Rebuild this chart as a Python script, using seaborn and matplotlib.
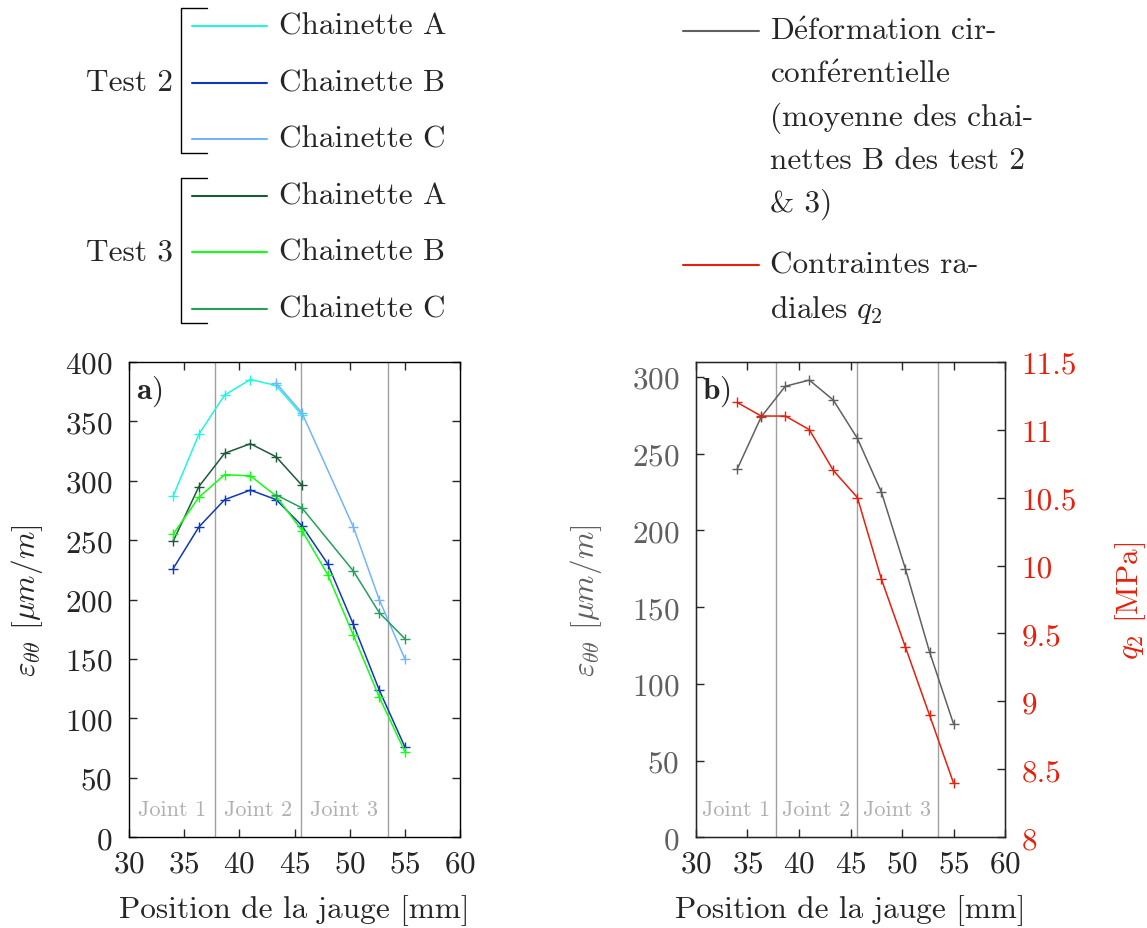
import numpy as np
import pandas as pd
import matplotlib.pyplot as plt
import seaborn as sns
from matplotlib.lines import Line2D

# positions des jauges [mm]
pos = [34.0, 36.33, 38.67, 41.0, 43.33, 45.67, 48.0, 50.33, 52.67, 55.0]
pos_c = [43.33, 45.67, 50.33, 52.67, 55.0]

# test 2
t2_A = [287, 339, 372, 385, 380, 355]
t2_B = [226, 261, 284, 292, 284, 262, 230, 179, 124, 76]
t2_C = [382, 357, 261, 200, 150]
# test 3
t3_A = [249, 295, 323, 331, 320, 296]
t3_B = [255, 286, 305, 304, 287, 258, 221, 170, 118, 72]
t3_C = [288, 277, 224, 189, 167]

# moyenne chainettes B et contraintes radiales
moy_B = [240, 274, 294, 298, 285, 260, 225, 175, 121, 74]
q2 = [11.2, 11.1, 11.1, 11.0, 10.7, 10.5, 9.9, 9.4, 8.9, 8.4]

joints = [37.8, 45.6, 53.45]
joint_lbl = ['Joint 1', 'Joint 2', 'Joint 3']
joint_x = [33.9, 41.7, 49.5]

c2 = ['#22F5E2', '#1038B8', '#74B4FF']
c3 = ['#1D5A3A', '#12FF12', '#24A05C']
gris = '#606060'
rouge = '#E5200C'

sns.set_style('ticks')
plt.rcParams['font.family'] = ['cmr10', 'DejaVu Serif']
plt.rcParams['mathtext.fontset'] = 'cm'
plt.rcParams['axes.formatter.use_mathtext'] = True
plt.rcParams['axes.unicode_minus'] = False
fs = 22.5

fig = plt.figure(figsize=(11.47, 9.29), dpi=100)
ax1 = fig.add_axes([0.1125, 0.0976, 0.2886, 0.512])
ax2 = fig.add_axes([0.6068, 0.0976, 0.2694, 0.512])
ax3 = ax2.twinx()

kw = dict(marker='+', markersize=7.5, mew=1.0, lw=1.1, legend=False)

series = [(pos[:6], t2_A, c2[0]), (pos, t2_B, c2[1]), (pos_c, t2_C, c2[2]),
          (pos[:6], t3_A, c3[0]), (pos, t3_B, c3[1]), (pos_c, t3_C, c3[2])]
for x, y, c in series:
    sns.lineplot(x=x, y=y, color=c, mec=c, ax=ax1, **kw)

sns.lineplot(x=pos, y=moy_B, color=gris, mec=gris, ax=ax2, **kw)
sns.lineplot(x=pos, y=q2, color=rouge, mec=rouge, ax=ax3, **kw)

for ax, ymax in [(ax1, 400), (ax2, 310)]:
    ax.set_xlim(30, 60)
    ax.set_ylim(0, ymax)
    ax.set_xticks(np.arange(30, 61, 5))
    for j in joints:
        ax.axvline(j, color='#a0a0a0', lw=1.0, zorder=0)
    for t, xx in zip(joint_lbl, joint_x):
        ax.text(xx, 0.058 * ymax, t, color='#b0b0b0', fontsize=16, ha='center', va='center')
    ax.set_xlabel('Position de la jauge [mm]', fontsize=fs, labelpad=12)
    ax.tick_params(direction='in', length=6, width=1, labelsize=fs, top=True)
    ax.tick_params(axis='x', pad=9)
    ax.tick_params(axis='y', pad=12)
    for s in ax.spines.values():
        s.set_linewidth(1.0)
        s.set_color('black')

ax1.set_yticks(np.arange(0, 401, 50))
ax1.tick_params(right=True)
ax1.set_ylabel(r'$\varepsilon_{\theta\theta}$ [$\mu m/m$]', fontsize=fs, labelpad=14)
ax1.text(0.02, 0.975, r'$\mathbf{a)}$', transform=ax1.transAxes, fontsize=fs,
         va='top', ha='left')

ax2.set_yticks(np.arange(0, 301, 50))
ax2.tick_params(axis='y', labelcolor=gris)
ax2.set_ylabel(r'$\varepsilon_{\theta\theta}$ [$\mu m/m$]', fontsize=fs, color=gris, labelpad=20)
ax2.text(0.02, 0.975, r'$\mathbf{b)}$', transform=ax2.transAxes, fontsize=fs,
         va='top', ha='left')

ax3.set_ylim(8, 11.5)
ax3.set_yticks(np.arange(8, 11.51, 0.5))
ax3.set_yticklabels(['8', '8.5', '9', '9.5', '10', '10.5', '11', '11.5'])
ax3.tick_params(direction='in', length=6, width=1, labelsize=fs, labelcolor=rouge, pad=12)
ax3.set_ylabel(r'$q_2$ [MPa]', fontsize=fs, color=rouge, labelpad=26)

# legende gauche (accolades test 2 / test 3)
W, H = 1147, 929
def fx(px): return px / W
def fy(py): return 1 - py / H

noms = ['Chainette A', 'Chainette B', 'Chainette C']
for g, (tst, cols) in enumerate([('Test 2', c2), ('Test 3', c3)]):
    y0 = 27 + g * 169.5
    for i, (n, c) in enumerate(zip(noms, cols)):
        yy = y0 + i * 56.5
        fig.add_artist(Line2D([fx(192), fx(267)], [fy(yy), fy(yy)], color=c, lw=1.5))
        fig.text(fx(279), fy(yy), n, fontsize=fs, va='center', ha='left')
    top, bot = y0 - 18, y0 + 2 * 56.5 + 14
    fig.add_artist(Line2D([fx(207), fx(181), fx(181), fx(207)],
                          [fy(top), fy(top), fy(bot), fy(bot)], color='black', lw=1.0))
    fig.text(fx(173), fy(y0 + 56.5), tst, fontsize=fs, va='center', ha='right')

# legende droite
fig.add_artist(Line2D([fx(683), fx(759)], [fy(32), fy(32)], color=gris, lw=1.5))
lignes = [r'D$\acute{\mathrm{e}}$formation cir-', r'conf$\acute{\mathrm{e}}$rentielle',
          '(moyenne des chai-', 'nettes B des test 2', '& 3)']
for i, l in enumerate(lignes):
    fig.text(fx(770), fy(32 + i * 43), l, fontsize=fs, va='center', ha='left')
fig.add_artist(Line2D([fx(683), fx(759)], [fy(266), fy(266)], color=rouge, lw=1.5))
fig.text(fx(770), fy(266), 'Contraintes ra-', fontsize=fs, va='center', ha='left')
fig.text(fx(770), fy(310), r'diales $q_2$', fontsize=fs, va='center', ha='left')

fig.savefig('out.png', dpi=100)
